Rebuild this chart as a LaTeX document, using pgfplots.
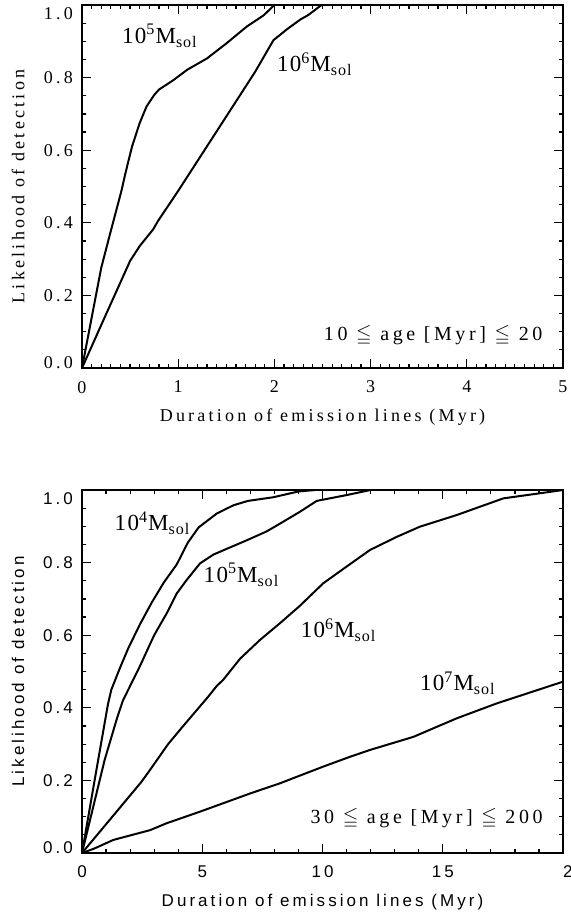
\documentclass[border=0pt]{standalone}
\usepackage{fontspec}
\setmainfont{Liberation Serif}[LetterSpace=18]
\newfontfamily\massfont{Liberation Serif}[LetterSpace=6]
\newfontfamily\hsans{Liberation Sans}[LetterSpace=18]
\usepackage{amssymb}
\usepackage{pgfplots}
\pgfplotsset{compat=1.18}

\newcommand{\msol}[1]{{\massfont\fontsize{11.5}{13}\selectfont 10\textsuperscript{#1}M\textsubscript{sol}}}

\pgfplotsset{
  idl/.style={
    scale only axis, width=240.5pt, height=181.5pt,
    anchor=north west,
    ymin=0, ymax=1,
    ytick={0,0.2,0.4,0.6,0.8,1.0}, minor y tick num=3,
    yticklabels={\smash{0.0},0.2,0.4,0.6,0.8,\smash{\raisebox{-7pt}{1.0}}},
    yticklabel style={xshift=-1pt},
    tick align=inside, major tick length=4.5pt, minor tick length=2.2pt,
    axis line style={line width=0.8pt},
    every tick/.style={black, line width=0.6pt},
    xticklabel style={yshift=-3pt},
    ylabel={Likelihood of detection},
    xlabel={Duration of emission lines (Myr)},
    every axis y label/.style={at={(axis description cs:-0.133,0.5)}, rotate=90, anchor=center},
    every axis x label/.style={at={(axis description cs:0.5,0)}, yshift=-24.5pt, anchor=center},
    every axis plot post/.append style={black, solid, line width=1pt, mark=none},
  }
}

\begin{document}
\begin{tikzpicture}
\path[use as bounding box] (0,0) rectangle (285pt,-458pt);

% top panel: 10 <= age <= 20 Myr
\begin{axis}[idl, at={(41pt,-2.5pt)},
    xmin=0, xmax=5, xtick={0,1,2,3,4,5}, minor x tick num=9,
    xticklabels={0,1,2,3,4,5},
    ticklabel style={font=\fontsize{9}{10}\selectfont},
    label style={font=\fontsize{9}{10}\selectfont}]
% 10^5 Msol
\addplot coordinates {
 (0,0) (0.2,0.276) (0.29,0.368) (0.41,0.488) (0.45,0.535)
 (0.52,0.61) (0.6,0.675) (0.67,0.72) (0.75,0.752) (0.8,0.767)
 (0.95,0.793) (1.09,0.821) (1.3,0.853) (1.5,0.894) (1.71,0.94)
 (1.89,0.972) (2.0,1.0)
};
% 10^6 Msol
\addplot coordinates {
 (0,0) (0.25,0.148) (0.5,0.295) (0.6,0.336) (0.74,0.382) (0.79,0.405)
 (1.0,0.488) (1.2,0.57) (1.4,0.652) (1.6,0.734) (1.8,0.816)
 (1.99,0.903) (2.13,0.933) (2.27,0.96) (2.35,0.972) (2.49,1.0)
};
\node at (axis cs:0.81,0.915) {\msol{5}};
\node at (axis cs:2.42,0.837) {\msol{6}};
\node[anchor=east, inner sep=0pt, font=\fontsize{10}{12}\selectfont]
  at (axis cs:4.79,0.09) {10 $\leqq$ age [Myr] $\leqq$ 20};
\end{axis}

% bottom panel: 30 <= age <= 200 Myr
\begin{axis}[idl, at={(41pt,-245pt)},
    xmin=0, xmax=20, xtick={0,5,10,15,20}, minor x tick num=4,
    xticklabels={0,5,10,15,\rlap{20}},
    ticklabel style={font=\hsans\fontsize{8.5}{10}\selectfont},
    label style={font=\hsans\fontsize{8.5}{10}\selectfont}]
% 10^4 Msol
\addplot coordinates {
 (0,0) (0.55,0.21) (1.08,0.41) (1.22,0.45) (1.58,0.51) (1.93,0.565)
 (2.41,0.63) (2.9,0.69) (3.4,0.745) (3.94,0.795) (4.4,0.855)
 (4.85,0.897) (5.6,0.935) (6.3,0.958) (6.9,0.97) (7.95,0.98)
 (9.0,0.996) (9.7,1.0)
};
% 10^5 Msol
\addplot coordinates {
 (0,0) (0.94,0.256) (1.45,0.37) (1.7,0.42) (2.0,0.46) (2.41,0.515)
 (3.0,0.6) (3.52,0.66) (3.94,0.715) (4.35,0.752) (4.91,0.798)
 (5.46,0.822) (6.02,0.838) (6.8,0.86) (7.68,0.886) (8.3,0.91)
 (9.06,0.94) (9.76,0.97) (11.0,0.986) (12.0,1.0)
};
% 10^6 Msol
\addplot coordinates {
 (0,0) (1.2,0.095) (2.47,0.196) (2.83,0.229) (3.58,0.3) (4.21,0.35)
 (5.24,0.43) (5.6,0.46) (5.87,0.477) (6.57,0.535) (7.4,0.587)
 (8.23,0.633) (9.06,0.681) (10.03,0.743) (11.0,0.789) (11.98,0.835)
 (13.09,0.871) (14.05,0.899) (15.58,0.931) (16.55,0.954) (17.52,0.977)
 (19.04,0.991) (20,1.0)
};
% 10^7 Msol
\addplot coordinates {
 (0,0) (0.5,0.012) (1.3,0.036) (2.83,0.063) (3.52,0.082) (4.91,0.114)
 (6.99,0.164) (8.23,0.192) (10.03,0.238) (11.14,0.265) (11.98,0.284)
 (13.78,0.32) (15.58,0.371) (17.24,0.412) (20,0.472)
};
\node at (axis cs:2.93,0.909) {\msol{4}};
\node at (axis cs:6.63,0.766) {\msol{5}};
\node at (axis cs:10.67,0.614) {\msol{6}};
\node at (axis cs:15.63,0.468) {\msol{7}};
\node[anchor=east, inner sep=0pt, font=\fontsize{10}{12}\selectfont]
  at (axis cs:19.17,0.096) {30 $\leqq$ age [Myr] $\leqq$ 200};
\end{axis}
\end{tikzpicture}
\end{document}
